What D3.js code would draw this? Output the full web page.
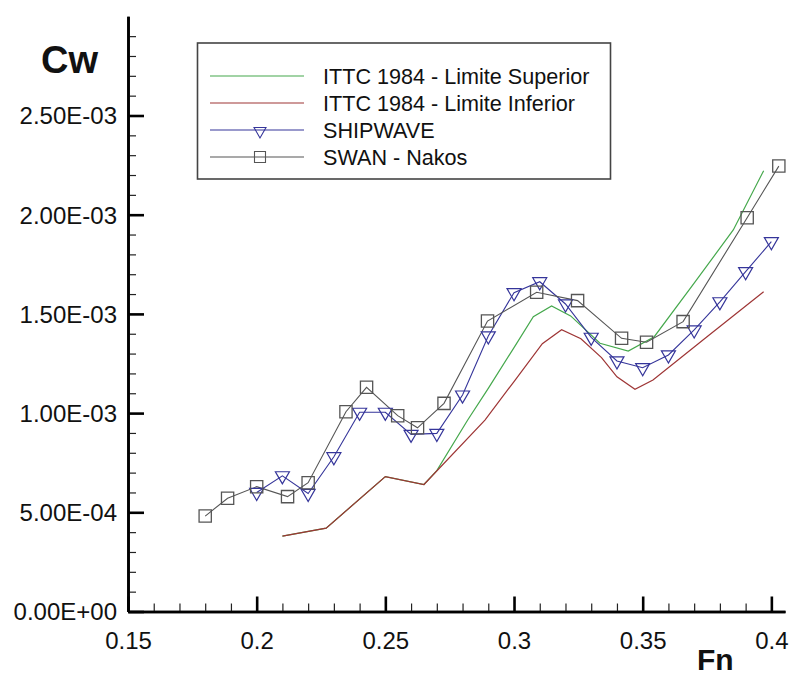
<!DOCTYPE html>
<html>
<head>
<meta charset="utf-8">
<script src="https://cdn.jsdelivr.net/npm/d3@7"></script>
<style>
  html, body { margin: 0; padding: 0; background: #fff; }
  svg { display: block; font-family: Arial, "Liberation Sans", sans-serif; }
  .axis .domain { stroke: #000; stroke-width: 2.6px; }
  .axis.major .tick line { stroke: #000; stroke-width: 2.6px; }
  .axis.minor .tick line { stroke: #222; stroke-width: 1.2px; }
  .axis .tick text { fill: #111; font-size: 24px; font-family: Arial, "Liberation Sans", sans-serif; }
</style>
</head>
<body>
<svg id="chart" width="791" height="675"></svg>
<script>
// Wave resistance coefficient Cw versus Froude number Fn

// ITTC 1984 - upper limit
const ittcUpFn = [0.210, 0.227, 0.250, 0.265, 0.270, 0.282, 0.290, 0.300, 0.3075, 0.3146, 0.322, 0.3334, 0.3444, 0.3545, 0.370, 0.3852, 0.397];
const ittcUpCw = [3.80e-4, 4.20e-4, 6.80e-4, 6.40e-4, 7.10e-4, 9.65e-4, 1.125e-3, 1.330e-3, 1.486e-3, 1.540e-3, 1.490e-3, 1.352e-3, 1.313e-3, 1.385e-3, 1.655e-3, 1.923e-3, 2.222e-3];

// ITTC 1984 - lower limit
const ittcLoFn = [0.210, 0.227, 0.250, 0.265, 0.2887, 0.300, 0.311, 0.3185, 0.326, 0.334, 0.340, 0.347, 0.354, 0.375, 0.397];
const ittcLoCw = [3.80e-4, 4.20e-4, 6.80e-4, 6.40e-4, 9.65e-4, 1.159e-3, 1.350e-3, 1.420e-3, 1.375e-3, 1.280e-3, 1.183e-3, 1.120e-3, 1.167e-3, 1.385e-3, 1.612e-3];

// SHIPWAVE
const shipFn = [0.20, 0.21, 0.22, 0.23, 0.24, 0.25, 0.26, 0.27, 0.28, 0.29, 0.30, 0.31, 0.32, 0.33, 0.34, 0.35, 0.36, 0.37, 0.38, 0.39, 0.40];
const shipCw = [6.00e-4, 6.84e-4, 5.95e-4, 7.80e-4, 1.004e-3, 1.004e-3, 8.93e-4, 8.98e-4, 1.091e-3, 1.389e-3, 1.607e-3, 1.662e-3, 1.550e-3, 1.382e-3, 1.263e-3, 1.229e-3, 1.293e-3, 1.419e-3, 1.561e-3, 1.713e-3, 1.864e-3];

// SWAN - Nakos
const swanFn = [0.180, 0.1887, 0.200, 0.212, 0.220, 0.2347, 0.2427, 0.2548, 0.2625, 0.2728, 0.2897, 0.3088, 0.3247, 0.3418, 0.3515, 0.3657, 0.3906, 0.4029];
const swanCw = [4.81e-4, 5.71e-4, 6.29e-4, 5.79e-4, 6.49e-4, 1.007e-3, 1.130e-3, 9.87e-4, 9.26e-4, 1.049e-3, 1.464e-3, 1.609e-3, 1.567e-3, 1.377e-3, 1.357e-3, 1.461e-3, 1.985e-3, 2.245e-3];

// Axis ticks
const xMajorTicks = [0.15, 0.20, 0.25, 0.30, 0.35, 0.40];
const xTickLabels = ["0.15", "0.2", "0.25", "0.3", "0.35", "0.4"];
const xMinorTicks = [0.16, 0.17, 0.18, 0.19, 0.21, 0.22, 0.23, 0.24, 0.26, 0.27, 0.28, 0.29, 0.31, 0.32, 0.33, 0.34, 0.36, 0.37, 0.38, 0.39];
const yMajorTicks = [0, 5e-4, 1e-3, 1.5e-3, 2e-3, 2.5e-3];
const yTickLabels = ["0.00E+00", "5.00E-04", "1.00E-03", "1.50E-03", "2.00E-03", "2.50E-03"];
const yMinorTicks = [1e-4, 2e-4, 3e-4, 4e-4, 6e-4, 7e-4, 8e-4, 9e-4, 1.1e-3, 1.2e-3, 1.3e-3, 1.4e-3, 1.6e-3, 1.7e-3, 1.8e-3, 1.9e-3, 2.1e-3, 2.2e-3, 2.3e-3, 2.4e-3, 2.6e-3, 2.7e-3, 2.8e-3, 2.9e-3];

const seriesNames = ["ITTC 1984 - Limite Superior", "ITTC 1984 - Limite Inferior", "SHIPWAVE", "SWAN - Nakos"];
const colors = { up: "#45a84c", lo: "#9e3535", ship: "#35359a", swan: "#555555" };

const svg = d3.select("#chart");

const x = d3.scaleLinear().domain([0.15, 0.4053]).range([128, 785]);
const y = d3.scaleLinear().domain([0, 3.0e-3]).range([611.5, 16.3]);

// ---- axes (ticks point into the plot) ----
const xMinor = d3.axisBottom(x).tickValues(xMinorTicks).tickSize(-8).tickSizeOuter(0).tickFormat(() => "");
const xMajor = d3.axisBottom(x).tickValues(xMajorTicks).tickSize(-15).tickSizeOuter(0).tickPadding(20)
  .tickFormat((d, i) => xTickLabels[i]);
const yMinor = d3.axisLeft(y).tickValues(yMinorTicks).tickSize(-8).tickSizeOuter(0).tickFormat(() => "");
const yMajor = d3.axisLeft(y).tickValues(yMajorTicks).tickSize(-16).tickSizeOuter(0).tickPadding(11)
  .tickFormat((d, i) => yTickLabels[i]);

svg.append("g").attr("class", "axis minor").attr("transform", `translate(0,${y(0)})`).call(xMinor);
svg.append("g").attr("class", "axis minor").attr("transform", `translate(${x(0.15)},0)`).call(yMinor);
const gxM = svg.append("g").attr("class", "axis major").attr("transform", `translate(0,${y(0)})`).call(xMajor);
const gyM = svg.append("g").attr("class", "axis major").attr("transform", `translate(${x(0.15)},0)`).call(yMajor);
gyM.selectAll(".tick text").attr("dy", "0.35em");

// axis titles
svg.append("text").attr("x", 41).attr("y", 73).attr("font-size", 38).attr("font-weight", "bold")
  .attr("fill", "#111").text("Cw");
svg.append("text").attr("x", 697).attr("y", 670).attr("font-size", 30).attr("font-weight", "bold")
  .attr("fill", "#111").text("Fn");

// ---- series ----
const line = d3.line().x(d => x(d[0])).y(d => y(d[1]));
const zip = (a, b) => a.map((v, i) => [v, b[i]]);

const upPts = zip(ittcUpFn, ittcUpCw);
const loPts = zip(ittcLoFn, ittcLoCw);
const shipPts = zip(shipFn, shipCw);
const swanPts = zip(swanFn, swanCw);

svg.append("path").datum(upPts).attr("d", line).attr("fill", "none")
  .attr("stroke", colors.up).attr("stroke-width", 1.2);
svg.append("path").datum(loPts).attr("d", line).attr("fill", "none")
  .attr("stroke", colors.lo).attr("stroke-width", 1.2);
svg.append("path").datum(shipPts).attr("d", line).attr("fill", "none")
  .attr("stroke", colors.ship).attr("stroke-width", 1.1);
svg.append("path").datum(swanPts).attr("d", line).attr("fill", "none")
  .attr("stroke", colors.swan).attr("stroke-width", 1.1);

const tri = d3.symbol().type(d3.symbolTriangle).size(85);
const sq = d3.symbol().type(d3.symbolSquare).size(150);

svg.append("g").selectAll("path").data(shipPts).join("path")
  .attr("d", tri)
  .attr("transform", d => `translate(${x(d[0])},${y(d[1])}) rotate(180)`)
  .attr("fill", "none").attr("stroke", colors.ship).attr("stroke-width", 1.2);

svg.append("g").selectAll("path").data(swanPts).join("path")
  .attr("d", sq)
  .attr("transform", d => `translate(${x(d[0])},${y(d[1])})`)
  .attr("fill", "none").attr("stroke", colors.swan).attr("stroke-width", 1.3);

// ---- legend ----
const lg = svg.append("g");
lg.append("rect").attr("x", 197.5).attr("y", 43).attr("width", 413).attr("height", 136)
  .attr("fill", "#fff").attr("stroke", "#444").attr("stroke-width", 1.6);

const rowsY = [76, 103, 130, 157];
const legendColors = [colors.up, colors.lo, colors.ship, colors.swan];
seriesNames.forEach((name, i) => {
  const ry = rowsY[i];
  lg.append("line").attr("x1", 210).attr("x2", 304).attr("y1", ry).attr("y2", ry)
    .attr("stroke", legendColors[i]).attr("stroke-width", 1.2);
  if (i === 2) {
    lg.append("path").attr("d", d3.symbol().type(d3.symbolTriangle).size(62)())
      .attr("transform", `translate(260,${ry + 1}) rotate(180)`)
      .attr("fill", "none").attr("stroke", colors.ship).attr("stroke-width", 1.1);
  }
  if (i === 3) {
    lg.append("path").attr("d", d3.symbol().type(d3.symbolSquare).size(121)())
      .attr("transform", `translate(260,${ry})`)
      .attr("fill", "none").attr("stroke", colors.swan).attr("stroke-width", 1.1);
  }
  lg.append("text").attr("x", 323).attr("y", ry + 8).attr("font-size", 21.6)
    .attr("fill", "#111").text(name);
});
</script>
</body>
</html>
